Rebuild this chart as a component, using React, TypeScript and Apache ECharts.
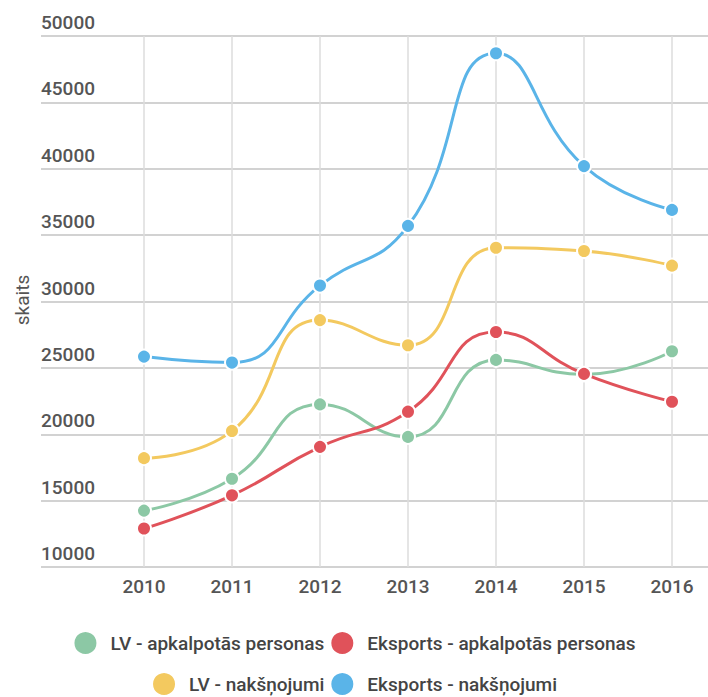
import React, { useEffect, useRef } from "react";
import * as echarts from "echarts";

const years = ["2010", "2011", "2012", "2013", "2014", "2015", "2016"];
const lvPersonas = [14250, 16650, 22250, 19800, 25600, 24500, 26250];
const eksPersonas = [12900, 15400, 19050, 21700, 27700, 24550, 22450];
const lvNaksnojumi = [18200, 20250, 28600, 26700, 34050, 33800, 32700];
const eksNaksnojumi = [25850, 25400, 31200, 35700, 48700, 40200, 36900];

const names = [
  "LV - apkalpotās personas",
  "Eksports - apkalpotās personas",
  "LV - nakšņojumi",
  "Eksports - nakšņojumi",
];
const colors = ["#8cc8a5", "#e0525a", "#f3c95f", "#5ab4e8"];
const seriesData = [lvPersonas, eksPersonas, lvNaksnojumi, eksNaksnojumi];

const FONT = "Roboto, 'Noto Sans', sans-serif";

export default function App() {
  const ref = useRef<HTMLDivElement>(null);
  useEffect(() => {
    if (!ref.current) return;
    const chart = echarts.init(ref.current, undefined, { renderer: "svg" });
    const legendCommon = {
      left: "center",
      orient: "horizontal" as const,
      padding: 0,
      icon: "circle",
      itemWidth: 40,
      itemHeight: 24,
      itemGap: 5,
      textStyle: { fontSize: 19, color: "#444", fontWeight: 500, fontFamily: FONT },
    };
    chart.setOption({
      animation: false,
      textStyle: { fontFamily: FONT },
      grid: [
        { left: 41, right: 0, top: 36, bottom: 130 },
        { left: 144, right: 36, top: 36, bottom: 130 },
      ],
      legend: [
        { ...legendCommon, top: 630, data: [names[0], names[1]] },
        { ...legendCommon, top: 671, data: [names[2], names[3]] },
      ],
      xAxis: [
        { type: "category", gridIndex: 0, data: years, show: false },
        {
          type: "category",
          gridIndex: 1,
          data: years,
          boundaryGap: false,
          axisLine: { show: false },
          axisTick: { show: false },
          axisLabel: {
            margin: 10,
            fontSize: 19,
            color: "#555",
            fontWeight: 500,
            fontFamily: FONT,
          },
          splitLine: { show: true, lineStyle: { color: "#dcdcdc", width: 1.5 } },
        },
      ],
      yAxis: [
        {
          type: "value",
          gridIndex: 0,
          min: 10000,
          max: 50000,
          interval: 5000,
          axisLine: { show: false },
          axisTick: { show: false },
          axisLabel: {
            inside: true,
            margin: 0,
            align: "left",
            verticalAlign: "bottom",
            padding: [0, 0, 4, 0],
            fontSize: 19,
            color: "#555",
            fontWeight: 500,
            fontFamily: FONT,
            formatter: (v: number) => String(v),
          },
          splitLine: { show: true, lineStyle: { color: "#d2d2d2", width: 2 } },
        },
        {
          type: "value",
          gridIndex: 1,
          min: 10000,
          max: 50000,
          interval: 5000,
          show: false,
          splitLine: { show: false },
        },
      ],
      graphic: [
        {
          type: "text",
          x: 22,
          y: 300,
          rotation: Math.PI / 2,
          style: {
            text: "skaits",
            fontSize: 19,
            fill: "#555",
            fontFamily: FONT,
            align: "center",
            verticalAlign: "middle",
          },
        },
      ],
      series: seriesData.map((d, i) => ({
        name: names[i],
        type: "line",
        xAxisIndex: 1,
        yAxisIndex: 1,
        data: d,
        smooth: 0.5,
        symbol: "circle",
        symbolSize: 14,
        lineStyle: { color: colors[i], width: 3 },
        itemStyle: { color: colors[i], borderColor: "#fff", borderWidth: 2 },
      })),
    });
    return () => chart.dispose();
  }, []);
  return (
    <div
      ref={ref}
      style={{ position: "absolute", left: 0, top: 0, width: 708, height: 697 }}
    />
  );
}
